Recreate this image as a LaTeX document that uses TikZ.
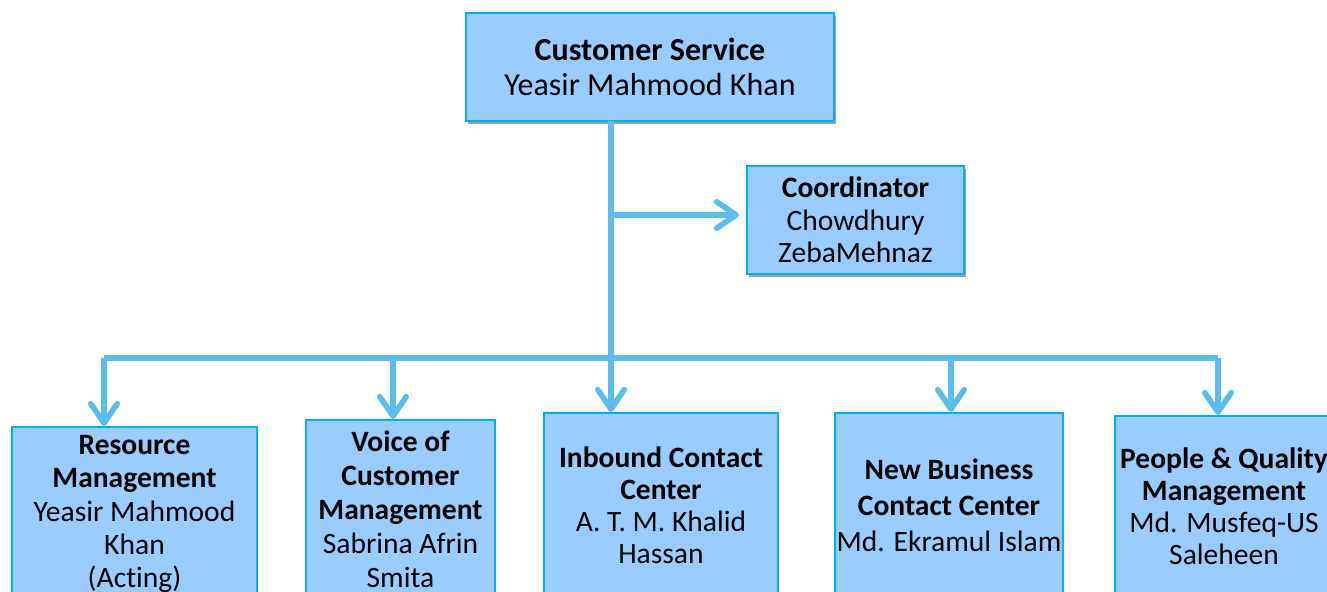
\documentclass[tikz,border=0pt]{standalone}
\usepackage{fontspec}
\setmainfont[Ligatures=NoCommon]{Carlito}
\usetikzlibrary{arrows.meta,shadows}
\definecolor{boxfill}{HTML}{99CCFF}
\definecolor{boxline}{HTML}{00B0F0}
\definecolor{connline}{HTML}{5BBDEB}
\newcommand{\boxfont}[1]{\fontsize{8.4}{#1}\selectfont}
\tikzset{
	orgbox/.style={draw=boxline, line width=0.6pt, fill=boxfill, align=center, inner sep=0pt, font=\boxfont{9.4}},
	headbox/.style={orgbox, drop shadow={shadow xshift=0.6pt, shadow yshift=-0.9pt, fill=gray!75, opacity=1}},
	conn/.style={draw=connline, line width=1.6pt},
	tip/.style={-{Straight Barb[length=5.5pt,width=7.5pt,line width=1.6pt,round]}}
}
\begin{document}
\begin{tikzpicture}[x=0.01cm,y=-0.01cm]
			\useasboundingbox (0,0) rectangle (1327,592);
			\node[headbox, minimum width=3.68cm, minimum height=1.08cm, font=\fontsize{9.1}{9.96}\selectfont] (cs) at (650,67) {\textbf{Customer Service}\\Yeasir Mahmood Khan};
			\node[headbox, minimum width=2.17cm, minimum height=1.08cm, font=\boxfont{9.25}] (coord) at (855.5,220) {\textbf{Coordinator}\\Chowdhury\\ZebaMehnaz};
			\node[orgbox, minimum width=2.45cm, minimum height=1.74cm] (rm) at (134.5,514) {\textbf{Resource}\\\textbf{Management}\\Yeasir Mahmood\\Khan\\(Acting)};
			\node[orgbox, minimum width=1.89cm, minimum height=1.78cm, font=\boxfont{9.7}] (voc) at (400.5,509) {\textbf{Voice of}\\\textbf{Customer}\\\textbf{Management}\\Sabrina Afrin\\Smita};
			\node[orgbox, minimum width=2.34cm, minimum height=1.84cm, font=\boxfont{9.1}] (icc) at (661,505) {\textbf{Inbound Contact}\\\textbf{Center}\\A. T. M. Khalid\\Hassan};
			\node[orgbox, minimum width=2.28cm, minimum height=1.84cm, font=\boxfont{10.2}] (nbcc) at (949,505) {\textbf{New Business}\\\textbf{Contact Center}\\Md. Ekramul Islam};
			\node[orgbox, minimum width=2.18cm, minimum height=1.80cm, font=\boxfont{9.1}] (pqm) at (1224,506) {\textbf{People \& Quality}\\\textbf{Management}\\Md. Musfeq-US\\Saleheen};
			% spine, branch and bus
			\coordinate (top) at (611,121);
			\coordinate (br) at (611,215);
			\coordinate (busL) at (104,358);
			\coordinate (busR) at (1218,358);
			\draw[conn, tip] (top) -- (top |- icc.north);
			\draw[conn, tip, shorten >=2pt] (br) -- (coord.west |- br);
			\draw[conn] (busL) -- (busR);
			\foreach \x/\n in {104/rm,393/voc,951/nbcc,1218/pqm}{
				\coordinate (d\n) at (\x,358);
				\draw[conn, tip] (d\n) -- (d\n |- \n.north);
			}
		\end{tikzpicture}
\end{document}
